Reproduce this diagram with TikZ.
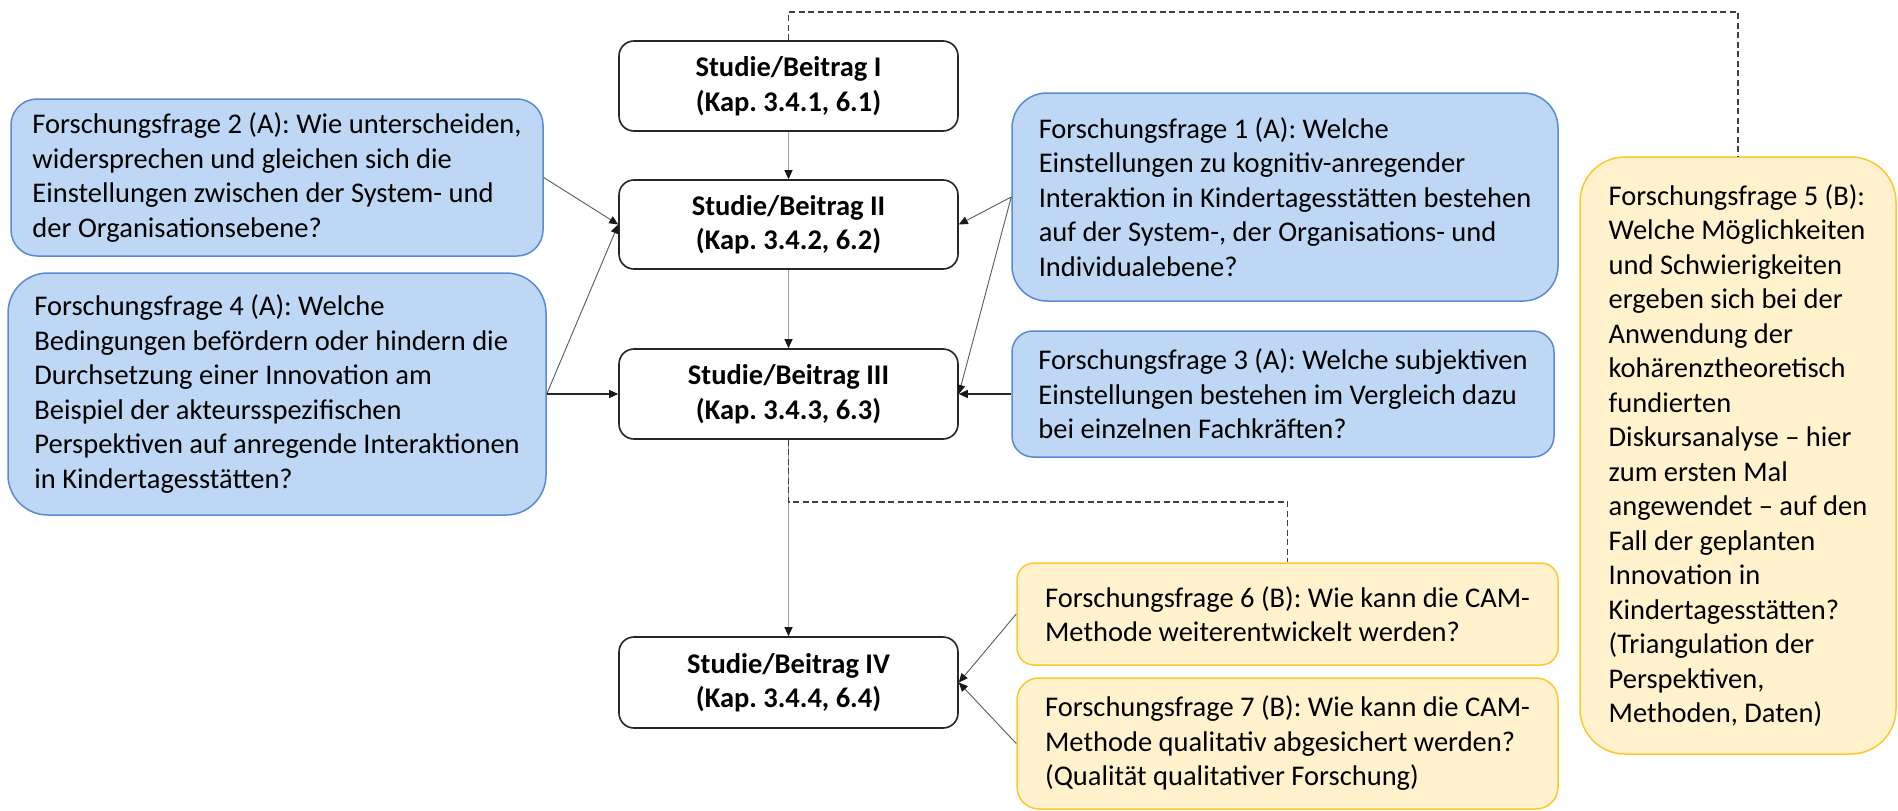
\documentclass[tikz,border=0pt]{standalone}
\usepackage{fontspec}
\setmainfont{Carlito}
\usetikzlibrary{arrows.meta}
\frenchspacing

\definecolor{qafill}{HTML}{BDD7F4}
\definecolor{qaline}{HTML}{5A8AD2}
\definecolor{qbfill}{HTML}{FFF2CC}
\definecolor{qbline}{HTML}{FFC72C}
\definecolor{flowgray}{HTML}{A0A0A0}
\definecolor{feedgray}{HTML}{5A5A5A}
\definecolor{dashgray}{HTML}{404040}

\tikzset{
  basefont/.style={font=\fontsize{28.5}{34.5}\selectfont},
  study/.style={basefont, font=\fontsize{28.5}{34.5}\selectfont\bfseries,
    draw=black!85, line width=1.6pt, rounded corners=15pt, fill=white,
    inner sep=0pt, align=center, minimum width=339pt, minimum height=90pt},
  qa/.style={basefont, draw=qaline, line width=1.5pt, fill=qafill,
    inner sep=0pt, align=left},
  qb/.style={basefont, draw=qbline, line width=1.5pt, fill=qbfill,
    inner sep=0pt, align=left},
  tip/.style={-{Triangle[length=9pt,width=8pt,color=black!90]}},
  flow/.style={tip, draw=flowgray, line width=1pt},
  feed/.style={tip, draw=feedgray, line width=0.9pt},
  feedstrong/.style={tip, draw=black!85, line width=1.3pt},
  dashlink/.style={draw=dashgray, line width=1.9pt, dash pattern=on 6pt off 3.5pt},
}

\begin{document}
\begin{tikzpicture}[x=1pt,y=-1pt]
\useasboundingbox (0,0) rectangle (1898,811);

% studies, top to bottom
\node[study] (s1) at (788.5,86) {Studie/Beitrag I\\(Kap. 3.4.1, 6.1)};
\node[study, minimum height=89pt] (s2) at (788.5,224.5) {Studie/Beitrag II\\(Kap. 3.4.2, 6.2)};
\node[study] (s3) at (788.5,394) {Studie/Beitrag III\\(Kap. 3.4.3, 6.3)};
\node[study, minimum height=91pt] (s4) at (788.5,682.5) {Studie/Beitrag IV\\(Kap. 3.4.4, 6.4)};

% research questions (A)
\node[qa, minimum width=532pt, minimum height=157pt, rounded corners=26pt] (f2) at (277,177.5)
  {Forschungsfrage 2 (A): Wie unterscheiden,\\widersprechen und gleichen sich die\\Einstellungen zwischen der System- und\\der Organisationsebene?};
\node[qa, minimum width=538pt, minimum height=242pt, rounded corners=40pt] (f4) at (277,394)
  {Forschungsfrage 4 (A): Welche\\Bedingungen befördern oder hindern die\\Durchsetzung einer Innovation am\\Beispiel der akteursspezifischen\\Perspektiven auf anregende Interaktionen\\in Kindertagesstätten?};
\node[qa, minimum width=546pt, minimum height=208pt, rounded corners=35pt] (f1) at (1285,197)
  {Forschungsfrage 1 (A): Welche\\Einstellungen zu kognitiv-anregender\\Interaktion in Kindertagesstätten bestehen\\auf der System-, der Organisations- und\\Individualebene?};
\node[qa, minimum width=542pt, minimum height=126pt, rounded corners=21pt] (f3) at (1283,394)
  {Forschungsfrage 3 (A): Welche subjektiven\\Einstellungen bestehen im Vergleich dazu\\bei einzelnen Fachkräften?};

% research questions (B)
\node[qb, minimum width=316pt, minimum height=597pt, rounded corners=45pt] (f5) at (1738,455.5)
  {Forschungsfrage 5 (B):\\Welche Möglichkeiten\\und Schwierigkeiten\\ergeben sich bei der\\Anwendung der\\kohärenztheoretisch\\fundierten\\Diskursanalyse – hier\\zum ersten Mal\\angewendet – auf den\\Fall der geplanten\\Innovation in\\Kindertagesstätten?\\(Triangulation der\\Perspektiven,\\Methoden, Daten)};
\node[qb, minimum width=541pt, minimum height=102pt, rounded corners=17pt] (f6) at (1287.5,614)
  {Forschungsfrage 6 (B): Wie kann die CAM-\\Methode weiterentwickelt werden?};
\node[qb, minimum width=541pt, minimum height=131pt, rounded corners=22pt] (f7) at (1287.5,743.5)
  {Forschungsfrage 7 (B): Wie kann die CAM-\\Methode qualitativ abgesichert werden?\\(Qualität qualitativer Forschung)};

% sequence of studies
\draw[flow] (s1) -- (s2);
\draw[flow] (s2) -- (s3);
\draw[flow] (s3) -- (s4);

% questions feeding the studies
\draw[feed] (f2.east) -- (s2.west);
\draw[feed] (f4.east) -- (s2.west);
\draw[feedstrong] (f4.east) -- (s3.west);
\draw[feed] (f1.west) -- (s2.east);
\draw[feed] (f1.west) -- (s3.east);
\draw[feedstrong] (f3.west) -- (s3.east);
\draw[feed] (f6.west) -- (s4.east);
\draw[feed] (f7.west) -- (s4.east);

% dashed links to the (B) questions
\draw[dashlink] (s1.north) -- ++(0,-28) -| (f5.north);
\draw[dashlink] (s3.south) -- ++(0,62) -| (f6.north);
\end{tikzpicture}
\end{document}
